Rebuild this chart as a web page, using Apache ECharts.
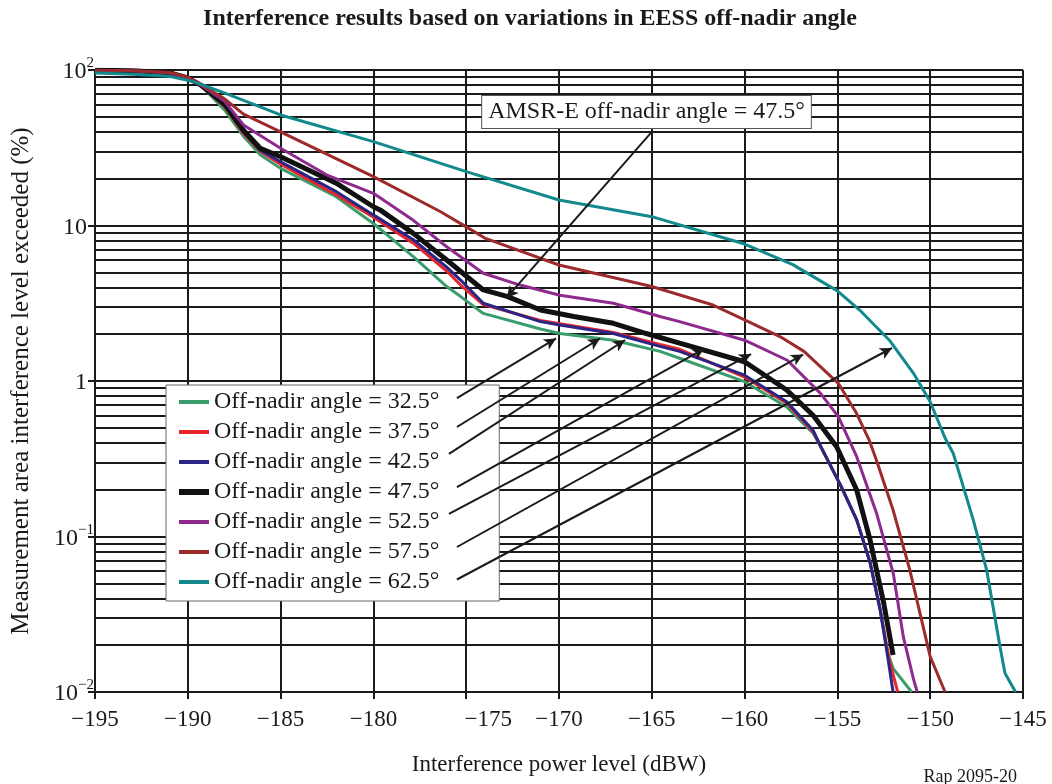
<!DOCTYPE html>
<html><head><meta charset="utf-8">
<script src="https://cdn.jsdelivr.net/npm/echarts@6/dist/echarts.min.js"></script>
<style>html,body{margin:0;padding:0;background:#fff}#c{width:1052px;height:784px}</style>
</head><body><div id="c"></div>
<script>
const FONT = '"Liberation Serif", "Times New Roman", serif';
const INK = '#1a1a1a';

const seriesNames = [
  'Off-nadir angle = 32.5°', 'Off-nadir angle = 37.5°', 'Off-nadir angle = 42.5°',
  'Off-nadir angle = 47.5°', 'Off-nadir angle = 52.5°', 'Off-nadir angle = 57.5°',
  'Off-nadir angle = 62.5°'
];
const seriesColors = ['#3a9d6b', '#e5262b', '#2a2586', '#111111', '#8e2a8e', '#9e2b2b', '#12898c'];
const seriesWidths = [3, 3, 3, 5, 3, 3, 3];
const legendSwatchWidths = [4, 4, 4, 6, 4, 4, 4];

const angle325 = [[-195,99],[-193,98.5],[-191,95.5],[-190,88.5],[-189.3,80],[-188,55],[-187,37.5],[-186.1,28.5],[-185,23.3],[-182,15.3],[-180,10.3],[-177.85,6.3],[-176.05,4.05],[-175.3,3.49],[-174.08,2.72],[-171,2.16],[-169.95,2.02],[-167.07,1.83],[-164.56,1.55],[-163.5,1.40],[-160,0.99],[-157.73,0.68],[-156.3,0.46],[-155.9,0.378],[-154.8,0.21],[-153.96,0.128],[-153.24,0.068],[-152.7,0.034],[-152.3,0.018],[-152.0,0.0142],[-151.0,0.01]];
const angle375 = [[-195,99.5],[-193,99],[-191,96],[-190,89],[-189.3,80],[-188,58],[-187,39],[-186.1,30],[-185,24.8],[-182,15.7],[-180,11.3],[-177.85,7.7],[-176.05,5.1],[-175.3,4.14],[-174.08,3.1],[-171,2.45],[-167.07,2.05],[-164.56,1.72],[-163.5,1.6],[-160,1.06],[-157.73,0.72],[-156.3,0.47],[-155.9,0.38],[-154.8,0.21],[-153.96,0.128],[-153.24,0.068],[-152.7,0.034],[-152.2,0.016],[-151.75,0.01]];
const angle425 = [[-195,99.5],[-193,99],[-191,96],[-190,89],[-189.3,80],[-188,59],[-187,40],[-186.1,30.5],[-185,25.7],[-182,16.5],[-180,11.7],[-177.85,8.1],[-176.05,5.4],[-175.3,4.46],[-174.08,3.16],[-171,2.41],[-169.95,2.29],[-167.07,2.02],[-164.56,1.67],[-163.5,1.55],[-160,1.09],[-157.73,0.736],[-156.3,0.48],[-155.9,0.38],[-154.8,0.21],[-153.96,0.128],[-153.24,0.068],[-152.7,0.034],[-152.26,0.016],[-152.0,0.01]];
const angle475 = [[-195,99.5],[-193,99],[-191,96],[-190,89],[-189.3,80],[-188,60],[-187,41],[-186.1,31.4],[-185,27.7],[-182,18.7],[-180,13.2],[-179.64,12.6],[-177.85,8.9],[-176.05,6.0],[-174.08,3.85],[-172.8,3.5],[-171,2.86],[-169.2,2.6],[-167.07,2.35],[-165.3,2.02],[-163.5,1.75],[-160,1.33],[-157.73,0.875],[-156.3,0.6],[-155.04,0.378],[-153.96,0.199],[-153.24,0.095],[-152.5,0.037],[-152.0,0.0173]];
const angle525 = [[-195,99.5],[-193,99],[-191,96],[-190,89],[-189.3,80],[-188,62.6],[-187,44.3],[-185,31.4],[-182.5,21.1],[-180,16.1],[-177.85,10.8],[-176.05,7.3],[-174.08,4.93],[-172.1,4.14],[-169.95,3.56],[-167.07,3.16],[-164.56,2.6],[-163.5,2.41],[-160,1.83],[-157.7,1.36],[-155.9,0.83],[-154.95,0.59],[-153.96,0.326],[-152.88,0.14],[-151.99,0.058],[-151.45,0.0227],[-150.9,0.0121],[-150.7,0.01]];
const angle575 = [[-195,99.5],[-193,99],[-191,96.5],[-190,90],[-189.3,81],[-188,65],[-187,52],[-185,40],[-180,20.6],[-176.4,12.3],[-175,9.8],[-174,8.3],[-170,5.57],[-165,4.05],[-161.7,3.08],[-160,2.47],[-158.1,1.93],[-156.8,1.55],[-154.95,0.966],[-153.97,0.62],[-153.3,0.42],[-152.9,0.31],[-152.0,0.148],[-151.1,0.061],[-150.0,0.0169],[-149.2,0.01]];
const angle625 = [[-195,95.5],[-193,94],[-191,91],[-190,86],[-189.3,81],[-188,71],[-185,51.4],[-180,34.6],[-175,22.2],[-170,14.6],[-165,11.4],[-160,7.6],[-157.4,5.6],[-155,3.8],[-153.8,2.86],[-152.2,1.83],[-150.9,1.12],[-150,0.736],[-149.2,0.43],[-148.76,0.343],[-147.68,0.128],[-146.96,0.061],[-146.24,0.0196],[-145.97,0.0132],[-145.4,0.01]];
const seriesData = [angle325, angle375, angle425, angle475, angle525, angle575, angle625];

const xTickValues = [-195, -190, -185, -180, -175, -170, -165, -160, -155, -150, -145];
const xShiftedTick = -175;
const yTickValues = [0.01, 0.1, 1, 10, 100];
const yTickBase = ['10', '10', '1', '10', '10'];
const yTickExp = ['−2', '−1', '', '', '2'];
const minorGridValues = [0.02,0.03,0.04,0.05,0.06,0.07,0.08,0.09,
  0.2,0.3,0.4,0.5,0.6,0.7,0.8,0.9, 2,3,4,5,6,7,8,9, 20,30,40,50,60,70,80,90];

const arrowStarts = [[-175.5,0.777],[-175.5,0.506],[-175.93,0.34],[-175.5,0.208],[-175.93,0.1396],[-175.5,0.0856],[-175.5,0.0529]];
const arrowEnds = [[-170.16,1.877],[-167.79,1.877],[-166.44,1.835],[-162.17,1.618],[-159.65,1.49],[-156.85,1.48],[-152.06,1.63]];
const amsrArrowStart = [-164.99, 40.1];
const amsrArrowEnd = [-172.83, 3.42];
const amsrLabel = 'AMSR-E off-nadir angle = 47.5°';
const titleText = 'Interference results based on variations in EESS off-nadir angle';
const xName = 'Interference power level (dBW)';
const yName = 'Measurement area interference level exceeded (%)';
const refText = 'Rap 2095-20';

const chart = echarts.init(document.getElementById('c'));

const lineSeries = seriesNames.map((n, i) => ({
  name: n, type: 'line', data: seriesData[i], symbol: 'none', showSymbol: false,
  lineStyle: { color: seriesColors[i], width: seriesWidths[i] },
  itemStyle: { color: seriesColors[i] },
  emphasis: { disabled: true }, z: 3, clip: true
}));

const arrowPairs = arrowStarts.map((s, i) => [{ coord: s }, { coord: arrowEnds[i] }]);
arrowPairs.push([{ coord: amsrArrowStart }, { coord: amsrArrowEnd }]);

const option = {
  animation: false,
  grid: { left: 95, right: 29, top: 70, bottom: 92, containLabel: false, outerBoundsMode: 'none' },
  legend: {
    orient: 'vertical', left: 166, top: 385,
    data: seriesNames.map((n, i) => ({
      name: n,
      lineStyle: { color: seriesColors[i], width: legendSwatchWidths[i] }
    })),
    itemWidth: 30, itemHeight: 14, itemGap: 6,
    padding: [5, 60, 7, 10],
    backgroundColor: '#fff', borderColor: '#666', borderWidth: 1,
    itemStyle: { color: 'rgba(0,0,0,0)', borderWidth: 0, opacity: 0 },
    textStyle: { fontFamily: FONT, fontSize: 24, color: INK, lineHeight: 24 },
    selectedMode: false
  },
  xAxis: {
    type: 'value', min: -195, max: -145, interval: 5,
    name: xName, nameLocation: 'middle', nameGap: 61,
    nameTextStyle: { fontFamily: FONT, fontSize: 23, color: INK },
    axisLine: { show: true, onZero: false, lineStyle: { color: INK, width: 2 } },
    axisTick: { show: true, length: 7, lineStyle: { color: INK, width: 2 } },
    splitLine: { show: true, lineStyle: { color: INK, width: 2 } },
    axisLabel: {
      margin: 16, color: INK, fontFamily: FONT, fontSize: 23,
      formatter: v => {
        const t = String(v).replace('-', '−');
        return v === xShiftedTick ? '{sh|' + t + '}' : t;
      },
      rich: { sh: { fontFamily: FONT, fontSize: 23, color: INK, padding: [0, 0, 0, 44] } }
    }
  },
  yAxis: {
    type: 'log', logBase: 10, min: 0.01, max: 100,
    name: yName, nameLocation: 'middle', nameGap: 61,
    nameTextStyle: { fontFamily: FONT, fontSize: 25, color: INK },
    axisLine: { show: true, lineStyle: { color: INK, width: 2 } },
    axisTick: { show: true, length: 7, lineStyle: { color: INK, width: 2 } },
    splitLine: { show: true, lineStyle: { color: INK, width: 2 } },
    axisLabel: {
      margin: 1, color: INK,
      formatter: v => {
        const k = yTickValues.findIndex(t => Math.abs(Math.log10(t) - Math.log10(v)) < 1e-6);
        if (k < 0) return '';
        return '{b|' + yTickBase[k] + '}' + (yTickExp[k] ? '{s|' + yTickExp[k] + '}' : '{p| }');
      },
      rich: {
        b: { fontFamily: FONT, fontSize: 24, color: INK, padding: [4, 0, 0, 0] },
        s: { fontFamily: FONT, fontSize: 15, color: INK, verticalAlign: 'top' },
        p: { fontFamily: FONT, fontSize: 15, width: 7 }
      }
    }
  },
  series: lineSeries.concat([
    {
      name: 'minor-grid', type: 'line', data: [], silent: true,
      markLine: {
        silent: true, z: 1, symbol: 'none', animation: false,
        label: { show: false }, emphasis: { disabled: true },
        lineStyle: { color: INK, width: 2, type: 'solid' },
        data: minorGridValues.map(v => ({ yAxis: v }))
      }
    },
    {
      name: 'arrows', type: 'line', data: [], silent: true,
      markLine: {
        silent: true, z: 8, symbol: ['none', 'arrow'], symbolSize: [9, 12], animation: false,
        label: { show: false }, emphasis: { disabled: true },
        lineStyle: { color: INK, width: 2, type: 'solid' },
        data: arrowPairs
      }
    }
  ]),
  graphic: [
    { type: 'text', silent: true, z: 10,
      style: { text: titleText, x: 530, y: 19, align: 'center', verticalAlign: 'middle',
        fontFamily: FONT, fontSize: 24, fontWeight: 'bold', fill: INK } },
    { type: 'text', silent: true, z: 10,
      style: { text: refText, x: 1017, y: 777, align: 'right', verticalAlign: 'middle',
        fontFamily: FONT, fontSize: 18, fill: INK } },
    { type: 'text', silent: true, z: 10,
      style: { text: amsrLabel, x: 646.5, y: 112, align: 'center', verticalAlign: 'middle',
        fontFamily: FONT, fontSize: 24, fill: INK, backgroundColor: '#fff',
        borderColor: '#555', borderWidth: 1, padding: [4, 6, 4, 6] } }
  ]
};

chart.setOption(option);
</script>
</body></html>
